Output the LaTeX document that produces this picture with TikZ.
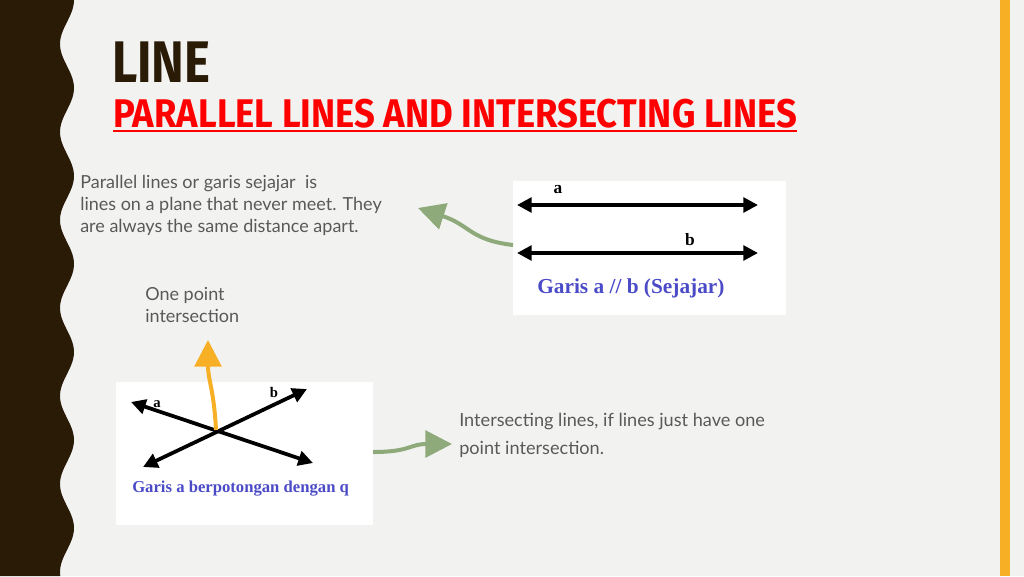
\documentclass[tikz,border=0pt]{standalone}
\usepackage{fontspec}
\setmainfont{Lato}
\newfontfamily\serifb{Liberation Serif}
\newfontfamily\headf{Fira Sans}
\usetikzlibrary{arrows.meta}
\definecolor{bg}{HTML}{F2F2F0}
\definecolor{dark}{HTML}{2A1B07}
\definecolor{orng}{HTML}{F7B025}
\definecolor{grn}{HTML}{8FAA7A}
\definecolor{txt}{HTML}{595959}
\definecolor{blu}{HTML}{4B4BC8}
\tikzset{
 body/.style={anchor=north west,text=txt,font=\fontsize{13.5}{16.5}\selectfont,align=left,inner sep=0pt},
 blk/.style={line width=2.8pt,{Triangle[length=11pt,width=11pt]}-{Triangle[length=11pt,width=11pt]}},
 lbl/.style={font=\serifb\bfseries\fontsize{13}{13}\selectfont,inner sep=0pt},
 cap2/.style={font=\serifb\bfseries\fontsize{16}{16}\selectfont,text=blu,inner sep=0pt},
 fat/.style={line width=3pt,-{Triangle[length=20pt,width=20pt]}}
}
\begin{document}
\begin{tikzpicture}[x=0.75pt,y=-0.75pt]
\useasboundingbox (0,0) rectangle (1024,576);
\fill[bg] (0,0) rectangle (1024,576);
\fill[dark] (0,0) -- plot[domain=0:576,samples=200,smooth] ({67+7*sin(\x/88*360+90)},\x) -- (0,576) -- cycle;
\fill[orng] (1000,0) rectangle (1010,576);
\node[anchor=base west,inner sep=0pt,text=dark] (t1) at (112,82) {\headf\bfseries\fontsize{44}{44}\selectfont\scalebox{0.84}[1]{LINE}};
\node[anchor=base west,inner sep=0pt,text=red] (t2) at (113,127) {\headf\bfseries\fontsize{30}{30}\selectfont\scalebox{0.91}[1]{PARALLEL LINES AND INTERSECTING LINES}};
\draw[red,line width=1pt] (113,131) -- (797,131);
\node[body] (p) at (80,175) {Parallel lines or garis sejajar\ \ is\\lines on a plane that never meet. They\\are always the same distance apart.};
\node[body] (o) at (145,287) {One point\\intersection};
\node[body,font=\fontsize{13.6}{21}\selectfont] (i) at (459,413) {Intersecting lines, if lines just have one\\point intersection.};
% parallel image
\fill[white] (513,181) rectangle (786,315);
\coordinate (a1) at (517,205); \coordinate (a2) at (758,205);
\coordinate (b1) at (517,253); \coordinate (b2) at (758,253);
\draw[blk] (a1) -- (a2);
\draw[blk] (b1) -- (b2);
\node[lbl] (la) at (558,190) {a};
\node[lbl] (lb) at (690,240) {b};
\node[cap2,anchor=west] (gp) at (537,288) {Garis a // b (Sejajar)};
% intersect image
\fill[white] (116,382) rectangle (373,525);
\coordinate (c1) at (131,402); \coordinate (c2) at (313,463);
\coordinate (d1) at (143,467); \coordinate (d2) at (307,389);
\draw[blk] (c1) -- (c2);
\draw[blk] (d1) -- (d2);
\node[lbl,font=\serifb\bfseries\fontsize{11}{11}\selectfont] (lc) at (157,404) {a};
\node[lbl,font=\serifb\bfseries\fontsize{11}{11}\selectfont] (ld) at (274,392) {b};
\node[cap2,anchor=west,font=\serifb\bfseries\fontsize{12.5}{12.5}\selectfont] (gi) at (132,489) {Garis a berpotongan dengan q};
% arrows
\coordinate (g1s) at (513,245); \coordinate (g1e) at (418,208);
\draw[grn,fat] (g1s) .. controls (470,240) and (470,225) .. (g1e);
\coordinate (os) at (216,430); \coordinate (oe) at (208,340);
\draw[orng,fat] (os) .. controls (214,390) and (208,380) .. (oe);
\coordinate (g2s) at (373,452); \coordinate (g2e) at (452,444);
\draw[grn,fat] (g2s) .. controls (410,452) and (410,444) .. (g2e);
\end{tikzpicture}
\end{document}
